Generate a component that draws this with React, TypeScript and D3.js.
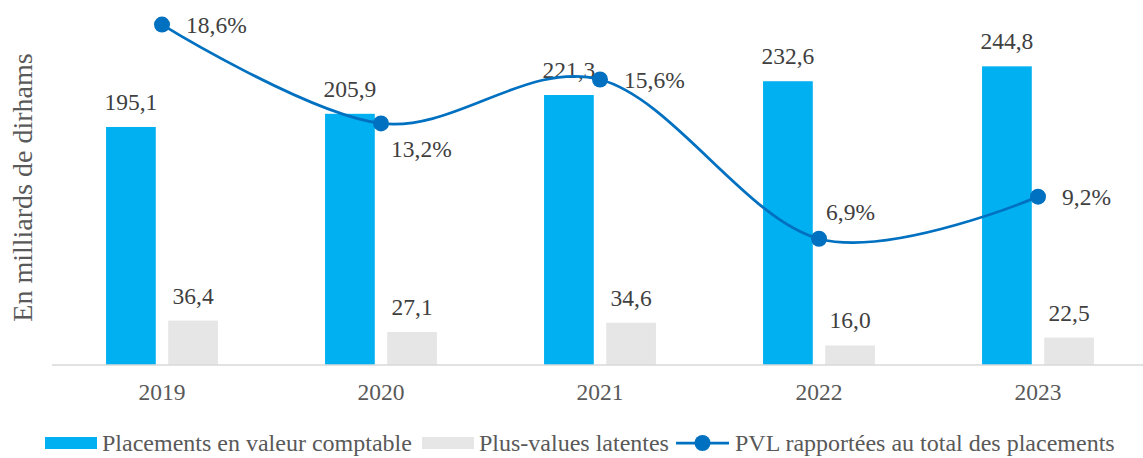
import React from 'react'
import { scaleBand, scaleLinear, line, curveCatmullRom } from 'd3'

const WIDTH = 1143
const HEIGHT = 458
const BASE = 365

const years = ['2019', '2020', '2021', '2022', '2023']
const placements = [195.1, 205.9, 221.3, 232.6, 244.8]
const plusValues = [36.4, 27.1, 34.6, 16.0, 22.5]
const pvlRatio = [18.6, 13.2, 15.6, 6.9, 9.2]
const ratioLabelSide = ['right', 'below', 'right', 'above', 'right']

const seriesNames = ['Placements en valeur comptable', 'Plus-values latentes', 'PVL rapportées au total des placements']

const BLUE = '#00B0F0'
const GREY = '#E7E6E6'
const LINE = '#0070C0'
const FONT = "'Liberation Serif', 'Times New Roman', Times, serif"

const fmt = (v: number) => v.toFixed(1).replace('.', ',')

const labelOffset: Record<string, [number, number]> = {
  right: [24, 8],
  below: [10, 34],
  above: [7, -19],
}

const T = ({ size, fill = '#404040', children, ...rest }: any) => (
  <text {...rest} style={{ fontFamily: FONT, fontSize: size, fill }}>{children}</text>
)

const App = () => {
  const x0 = scaleBand<string>().domain(years).range([52.5, 1147.5]).paddingInner(0.489).paddingOuter(0.2445)
  const x1 = scaleBand<string>().domain(['pl', 'pv']).range([0, x0.bandwidth()]).paddingInner(0.2)
  const y = scaleLinear().domain([0, 300]).range([BASE, -1])
  const y2 = scaleLinear().domain([0, 20]).range([BASE, -1])
  const cx = (yr: string) => (x0(yr) as number) + x0.bandwidth() / 2

  const pts = years.map((yr, i) => ({ yr, v: pvlRatio[i] }))
  const linePath = line<{ yr: string; v: number }>()
    .x(d => cx(d.yr))
    .y(d => y2(d.v))
    .curve(curveCatmullRom.alpha(0))

  const bars = [
    { key: 'pl', values: placements, color: BLUE },
    { key: 'pv', values: plusValues, color: GREY },
  ]

  const legendX = [45, 422, 676]

  return (
    <svg width={WIDTH} height={HEIGHT} style={{ position: 'absolute', left: 0, top: 0, background: 'white' }}>
      <T transform={`translate(32, 187.5) rotate(-90)`} textAnchor="middle" size={28} fill="#595959">
        En milliards de dirhams
      </T>

      {bars.map(s => (
        <g key={s.key}>
          {years.map((yr, i) => {
            const bx = (x0(yr) as number) + (x1(s.key) as number)
            const top = y(s.values[i])
            return (
              <g key={yr}>
                <rect x={bx} y={top} width={x1.bandwidth()} height={BASE - top} fill={s.color} />
                <T x={bx + x1.bandwidth() / 2} y={top - 17} textAnchor="middle" size={23.5}>
                  {fmt(s.values[i])}
                </T>
              </g>
            )
          })}
        </g>
      ))}

      <line x1={52} x2={WIDTH} y1={BASE} y2={BASE} stroke="#D9D9D9" strokeWidth={1.5} />
      {years.map(yr => (
        <T key={yr} x={cx(yr)} y={400} textAnchor="middle" size={23.5} fill="#595959">{yr}</T>
      ))}

      <path d={linePath(pts) || ''} fill="none" stroke={LINE} strokeWidth={2.75} />
      {pts.map((d, i) => {
        const px = cx(d.yr)
        const py = y2(d.v)
        const [dx, dy] = labelOffset[ratioLabelSide[i]]
        return (
          <g key={d.yr}>
            <circle cx={px} cy={py} r={8} fill={LINE} />
            <T x={px + dx} y={py + dy} size={23.5}>{fmt(d.v)}%</T>
          </g>
        )
      })}

      <g>
        <rect x={legendX[0]} y={437} width={52} height={12} fill={BLUE} />
        <T x={legendX[0] + 57} y={451} size={24} fill="#595959">{seriesNames[0]}</T>
        <rect x={legendX[1]} y={437} width={52} height={12} fill={GREY} />
        <T x={legendX[1] + 57} y={451} size={24} fill="#595959">{seriesNames[1]}</T>
        <line x1={legendX[2]} x2={legendX[2] + 53} y1={443} y2={443} stroke={LINE} strokeWidth={2.75} />
        <circle cx={legendX[2] + 26.5} cy={443} r={8} fill={LINE} />
        <T x={legendX[2] + 59} y={451} size={24} fill="#595959">{seriesNames[2]}</T>
      </g>
    </svg>
  )
}

export default App
